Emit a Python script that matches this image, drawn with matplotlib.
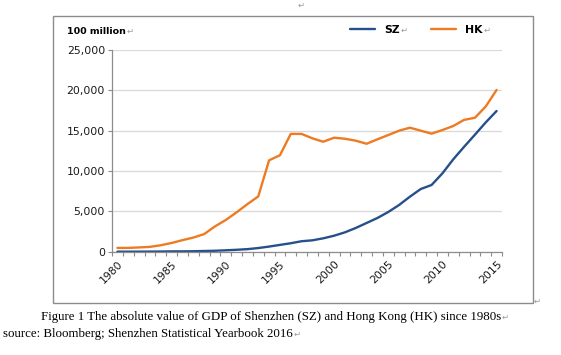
import matplotlib
matplotlib.use("Agg")
import matplotlib.pyplot as plt
from matplotlib.patches import Rectangle
import numpy as np

years = list(range(1980, 2016))
sz = [3, 5, 8, 13, 23, 39, 42, 56, 87, 116, 172, 237, 317, 453, 635, 843, 1048, 1297,
      1410, 1660, 1980, 2400, 2940, 3560, 4180, 4920, 5790, 6820, 7770, 8270, 9710,
      11450, 13000, 14500, 16030, 17440]
hk = [470, 470, 530, 600, 800, 1080, 1430, 1750, 2180, 3130, 3930, 4880, 5900, 6850,
      11330, 11950, 14600, 14600, 14050, 13630, 14130, 14000, 13760, 13380, 13930,
      14460, 15000, 15370, 15000, 14630, 15080, 15580, 16340, 16600, 18000, 20050]
yticks = [0, 5000, 10000, 15000, 20000, 25000]
xlabel_years = [1980, 1985, 1990, 1995, 2000, 2005, 2010, 2015]

W, H = 561, 355
fig = plt.figure(figsize=(W / 100, H / 100), dpi=100)
MARK = '\u21b5'
MARK_COLOR = '#9a9a9a'

def fx(px):
    return px / W

def fy(py):
    return 1 - py / H

# outer chart frame
fig.patches.append(Rectangle((fx(53), fy(303)), fx(533) - fx(53), fy(16) - fy(303),
                             transform=fig.transFigure, fill=False,
                             edgecolor='#8c8c8c', lw=1.0))

ax = fig.add_axes([fx(112), fy(251.7), fx(502) - fx(112), fy(50) - fy(251.7)])
x = np.arange(len(years))
ax.plot(x, sz, color='#26508b', lw=1.7, label='SZ', solid_capstyle='round')
ax.plot(x, hk, color='#ee7b22', lw=1.7, label='HK', solid_capstyle='round')

ax.set_xlim(-0.5, len(years) - 0.5)
ax.set_ylim(0, 25000)
ax.set_yticks(yticks)
ax.set_yticklabels([f"{v:,}" for v in yticks], fontsize=7.8, color='#1a1a1a')
ax.grid(axis='y', color='#d9d9d9', lw=0.9)
ax.set_axisbelow(True)

# category boundary tick marks
ax.set_xticks(np.arange(len(years) + 1) - 0.5, minor=True)
ax.tick_params(axis='x', which='minor', length=3, color='#8c8c8c', width=0.8)
xt = [years.index(y) for y in xlabel_years]
ax.set_xticks(xt)
ax.set_xticklabels([str(y) for y in xlabel_years], rotation=45, ha='right',
                   rotation_mode='anchor', fontsize=7.8, color='#1a1a1a')
ax.tick_params(axis='x', which='major', length=0, pad=5)
ax.tick_params(axis='y', length=3, color='#8c8c8c', width=0.8, pad=2)
for s in ['top', 'right']:
    ax.spines[s].set_visible(False)
for s in ['left', 'bottom']:
    ax.spines[s].set_color('#8c8c8c')
    ax.spines[s].set_linewidth(0.9)

leg = ax.legend(loc='center left', bbox_to_anchor=(fx(350), fy(30)),
                bbox_transform=fig.transFigure, ncol=2, frameon=False,
                prop={'weight': 'bold', 'size': 7.8}, handlelength=2.3,
                handletextpad=0.85, columnspacing=2.9, borderpad=0, borderaxespad=0)

t_unit = fig.text(fx(67), fy(31), "100 million", fontsize=6.8, fontweight='bold',
                  va='center', ha='left')

cap1 = fig.text(fx(41), fy(317),
                "Figure 1 The absolute value of GDP of Shenzhen (SZ) and Hong Kong (HK) since 1980s",
                family='Liberation Serif', fontsize=9.3, va='center', ha='left')
cap2 = fig.text(fx(3), fy(334), "source: Bloomberg; Shenzhen Statistical Yearbook 2016",
                family='Liberation Serif', fontsize=9.3, va='center', ha='left')

# Word paragraph marks
fig.canvas.draw()
r = fig.canvas.get_renderer()
for t in [t_unit, cap1, cap2] + list(leg.get_texts()):
    bb = t.get_window_extent(r)
    xm = bb.x1 + 0.5
    ym = (bb.y0 + bb.y1) / 2
    fig.text(xm / W, ym / H, MARK, fontsize=6, color=MARK_COLOR, va='center', ha='left')
fig.text(fx(298), fy(5), MARK, fontsize=6, color=MARK_COLOR, va='center', ha='left')
fig.text(fx(534), fy(301), MARK, fontsize=6, color=MARK_COLOR, va='center', ha='left')

fig.savefig("out.png", dpi=100)
